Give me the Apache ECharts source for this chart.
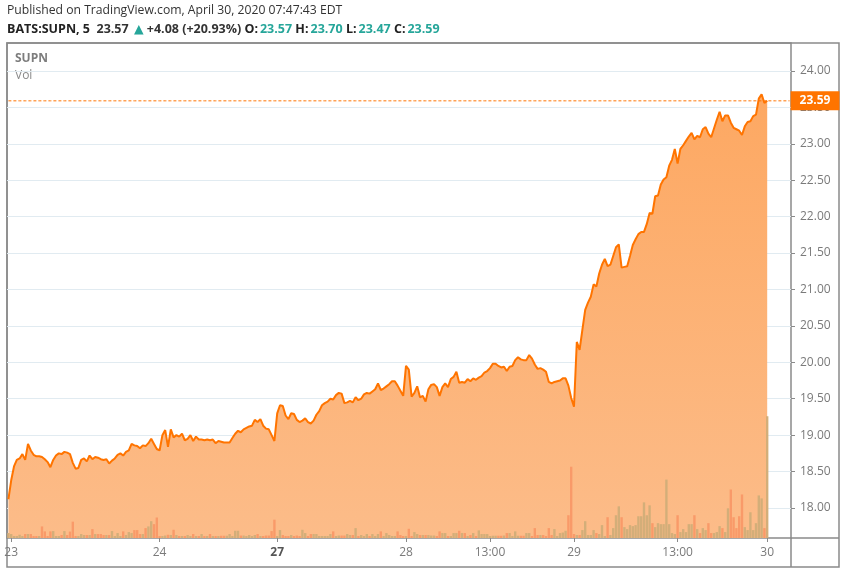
<!DOCTYPE html>
<html>
<head>
<meta charset="utf-8">
<script src="https://cdn.jsdelivr.net/npm/echarts@6.0.0/dist/echarts.min.js"></script>
<style>
  html, body { margin: 0; padding: 0; background: #fff; }
  #chart { width: 846px; height: 574px; }
</style>
</head>
<body>
<div id="chart"></div>
<script>
// SUPN, 5 minute bars, Apr 23 - Apr 30 2020
var prices = [
  18.12, 18.38, 18.57, 18.66, 18.68, 18.74, 18.66, 18.88, 18.79, 18.73,
  18.71, 18.71, 18.70, 18.67, 18.63, 18.56, 18.66, 18.72, 18.75, 18.74,
  18.77, 18.76, 18.74, 18.62, 18.54, 18.55, 18.66, 18.68, 18.64, 18.72,
  18.67, 18.70, 18.69, 18.67, 18.66, 18.67, 18.61, 18.65, 18.68, 18.73,
  18.75, 18.72, 18.77, 18.79, 18.88, 18.86, 18.85, 18.82, 18.86, 18.85,
  18.89, 18.95, 18.88, 18.81, 18.79, 19.00, 19.07, 18.84, 19.08, 18.97,
  19.00, 18.98, 19.02, 18.93, 18.95, 19.00, 18.92, 18.98, 18.94, 18.94,
  18.93, 18.94, 18.93, 18.94, 18.89, 18.92, 18.91, 18.90, 18.90, 18.90,
  18.96, 19.02, 19.06, 19.04, 19.08, 19.10, 19.12, 19.13, 19.21, 19.18,
  19.22, 19.13, 19.09, 19.08, 19.00, 18.92, 19.30, 19.41, 19.40, 19.27,
  19.22, 19.30, 19.29, 19.21, 19.18, 19.20, 19.23, 19.18, 19.16, 19.20,
  19.28, 19.33, 19.41, 19.44, 19.46, 19.50, 19.49, 19.55, 19.58, 19.57,
  19.44, 19.45, 19.47, 19.45, 19.52, 19.48, 19.50, 19.56, 19.58, 19.57,
  19.60, 19.63, 19.71, 19.62, 19.64, 19.67, 19.70, 19.74, 19.74, 19.68,
  19.61, 19.54, 19.95, 19.90, 19.53, 19.58, 19.67, 19.52, 19.54, 19.46,
  19.63, 19.69, 19.70, 19.66, 19.54, 19.66, 19.71, 19.66, 19.77, 19.80,
  19.87, 19.72, 19.73, 19.72, 19.77, 19.74, 19.78, 19.76, 19.79, 19.81,
  19.86, 19.88, 19.92, 19.98, 19.98, 19.95, 19.93, 19.94, 19.88, 19.94,
  19.95, 20.03, 20.07, 20.04, 20.03, 20.03, 20.10, 20.05, 19.97, 19.91,
  19.92, 19.90, 19.87, 19.73, 19.71, 19.73, 19.74, 19.75, 19.78, 19.78,
  19.68, 19.51, 19.39, 20.28, 20.17, 20.45, 20.72, 20.82, 20.90, 21.07,
  21.04, 21.22, 21.34, 21.42, 21.32, 21.34, 21.46, 21.58, 21.62, 21.30,
  21.31, 21.32, 21.46, 21.61, 21.69, 21.76, 21.79, 21.79, 21.90, 22.05,
  22.04, 22.28, 22.29, 22.44, 22.51, 22.54, 22.70, 22.78, 22.93, 22.73,
  22.93, 22.98, 23.04, 23.10, 23.15, 23.06, 23.11, 23.09, 23.20, 23.23,
  23.14, 23.09, 23.21, 23.33, 23.44, 23.31, 23.39, 23.39, 23.29, 23.22,
  23.20, 23.18, 23.12, 23.24, 23.30, 23.31, 23.38, 23.40, 23.62, 23.68,
  23.56, 23.59
];

// volume, thousands of shares
var volumes = [
  5, 4, 2, 2, 3.3, 2, 4, 4, 4, 2,
  2, 2, 11.7, 6.7, 2, 6.7, 7, 2, 2, 3,
  7, 3, 6.5, 16.5, 2, 2, 4, 3, 3, 3,
  9, 4, 4, 4, 3, 3, 3, 7, 2, 5,
  2, 6.7, 3, 6, 5, 8, 8, 4, 4, 10,
  11.7, 17, 14, 20.7, 2, 2, 2.5, 3.3, 3, 8.3,
  3, 2, 2, 2, 3, 2, 4, 2, 2, 4,
  2, 2, 4, 2, 2, 2, 2.3, 2.3, 2.3, 4,
  2, 7.3, 7.3, 2.5, 2.5, 2, 3, 2, 3, 4,
  2, 2, 2.5, 2.5, 7, 18.5, 2, 8, 3, 2,
  2, 3, 2, 2.5, 2, 8.3, 5, 2, 4, 4,
  4, 2, 2, 2, 2, 4, 6.7, 2, 2.5, 2.5,
  2.5, 4, 3, 3, 10, 2, 3, 2, 4, 2,
  4, 2, 4, 6.7, 2, 5, 3, 2, 2, 6.7,
  3, 2, 2, 9.3, 2, 6, 4, 3, 3, 3,
  3, 2.5, 2.5, 2, 6.7, 5, 5, 2, 2, 5,
  5, 7.3, 5, 5, 2, 3, 5, 2, 7.7, 4,
  4, 4, 2, 2.3, 2.3, 2.3, 2.3, 2.5, 5, 5,
  2, 6.7, 2.3, 2.3, 2.3, 5, 5, 2, 10, 3,
  3, 3, 2, 10, 3, 9, 2, 5, 5.5, 7.3,
  23, 72, 4, 3, 3, 8, 17, 3, 3, 8,
  5, 4, 13, 2, 21, 3, 10, 23, 32, 21,
  11, 9, 13, 12, 13, 22, 22, 36, 23, 33,
  15, 11, 15, 14, 14, 59, 14, 5, 4, 23,
  6, 9, 6, 14, 14, 23, 9, 5, 10, 8,
  15, 5, 5, 6, 12, 10, 6, 30, 49, 21,
  10, 22, 44, 11, 8, 26, 8, 15, 43, 40,
  10, 123
];

var tickIndex = [1, 54, 96, 142, 172, 202, 239, 271];
var tickText = ['23', '24', '27', '28', '13:00', '29', '13:00', '30'];
var priceTicks = [18, 18.5, 19, 19.5, 20, 20.5, 21, 21.5, 22, 22.5, 23, 23.5, 24];
var slotCount = 280;   // bars plus the empty right margin

var FONT = '"Open Sans", "DejaVu Sans", sans-serif';
var ORANGE = '#FF7400';
var lastPrice = prices[prices.length - 1];

var slots = [];
for (var i = 0; i < slotCount; i++) slots.push(String(i));

var volData = volumes.map(function (v, i) {
  var up = i === 0 || prices[i] >= prices[i - 1];
  return { value: v, itemStyle: { color: up ? '#D3AE79' : '#F99A69' } };
});

// last price level drawn across every slot
var lastLevel = slots.map(function () { return lastPrice; });

var chart = echarts.init(document.getElementById('chart'));

chart.setOption({
  animation: false,
  title: [
    {
      text: 'Published on TradingView.com, April 30, 2020 07:47:43 EDT',
      left: 7, top: 5, padding: 0,
      textStyle: { fontFamily: FONT, fontSize: 12.2, fontWeight: 'normal', color: '#333' }
    },
    {
      text: '{b|BATS:SUPN, 5}  {n|23.57} {g|▲} {n|+4.08 (+20.93%)} {b|O:}{g|23.57} {b|H:}{g|23.70} {b|L:}{g|23.47} {b|C:}{g|23.59}',
      left: 7, top: 23, padding: 0,
      textStyle: {
        fontFamily: FONT, fontSize: 12.5,
        rich: {
          b: { fontFamily: FONT, fontSize: 12.5, fontWeight: 'bold', color: '#222' },
          n: { fontFamily: FONT, fontSize: 12.5, color: '#333' },
          g: { fontFamily: FONT, fontSize: 12.5, color: '#26A69A', padding: [0, 0, 0, 2] }
        }
      }
    }
  ],
  graphic: [
    { type: 'rect', silent: true, shape: { x: 7, y: 43, width: 832, height: 524 },
      style: { fill: 'none', stroke: '#8a8a8a', lineWidth: 1.5 } },
    { type: 'line', silent: true, shape: { x1: 791, y1: 538, x2: 791, y2: 567 },
      style: { stroke: '#8a8a8a', lineWidth: 1.5 } },
    { type: 'line', silent: true, shape: { x1: 791, y1: 538, x2: 839, y2: 538 },
      style: { stroke: '#8a8a8a', lineWidth: 1.5 } },
    { type: 'text', left: 15, top: 53, silent: true,
      style: { text: 'SUPN', fill: '#7d7d7d', font: 'bold 12px ' + FONT } },
    { type: 'text', left: 15, top: 70, silent: true,
      style: { text: 'Vol', fill: '#8a8a8a', font: '12px ' + FONT } }
  ],
  grid: {
    left: 7, right: 55, top: 43, bottom: 36,
    show: true, borderColor: '#8a8a8a', borderWidth: 1.5, backgroundColor: 'transparent'
  },
  xAxis: {
    type: 'category',
    data: slots,
    boundaryGap: true,
    axisLine: { show: false },
    axisTick: {
      show: true, alignWithLabel: true, length: 4,
      interval: function (idx) { return tickIndex.indexOf(idx) >= 0; },
      lineStyle: { color: '#8a8a8a' }
    },
    axisLabel: {
      interval: function (idx) { return tickIndex.indexOf(idx) >= 0; },
      formatter: function (val) {
        var k = tickIndex.indexOf(Number(val));
        if (k < 0) return '';
        return tickText[k] === '27' ? '{b|27}' : tickText[k];
      },
      color: '#7a7a7a', fontSize: 12, fontFamily: FONT, margin: 9,
      rich: { b: { fontWeight: 'bold', color: '#555', fontSize: 12, fontFamily: FONT } }
    },
    splitLine: { show: false }
  },
  yAxis: [
    {
      type: 'value', position: 'right',
      min: 17.588, max: 24.384,
      axisLine: { show: false },
      axisTick: { show: true, length: 4, customValues: priceTicks, lineStyle: { color: '#8a8a8a' } },
      axisLabel: {
        customValues: priceTicks,
        formatter: function (v) { return v.toFixed(2); },
        color: '#7a7a7a', fontSize: 12, fontFamily: FONT, margin: 9
      },
      splitLine: { show: true, lineStyle: { color: '#e1ebf1', width: 1 } }
    },
    { type: 'value', min: 0, max: 500, show: false }
  ],
  series: [
    {
      name: 'SUPN', type: 'line', data: prices,
      symbol: 'none', smooth: false, z: 2, silent: true,
      lineStyle: { color: ORANGE, width: 2 },
      areaStyle: {
        origin: 'start', opacity: 1,
        color: new echarts.graphic.LinearGradient(0, 0, 0, 1, [
          { offset: 0, color: '#FDA862' },
          { offset: 1, color: '#FCBC89' }
        ])
      }
    },
    {
      name: 'Last', type: 'line', data: lastLevel,
      symbol: 'none', z: 4, silent: true,
      lineStyle: { color: ORANGE, width: 1, type: [3, 2] },
      endLabel: {
        show: true, distance: 1,
        formatter: function (p) { return Number(p.value).toFixed(2); },
        backgroundColor: ORANGE, color: '#fff', fontWeight: 'bold',
        fontSize: 12, fontFamily: FONT, padding: [4, 9, 3, 9]
      },
      emphasis: { disabled: true }
    },
    {
      name: 'Vol', type: 'bar', yAxisIndex: 1, data: volData,
      barCategoryGap: '15%', z: 3, silent: true
    }
  ]
});
</script>
</body>
</html>
